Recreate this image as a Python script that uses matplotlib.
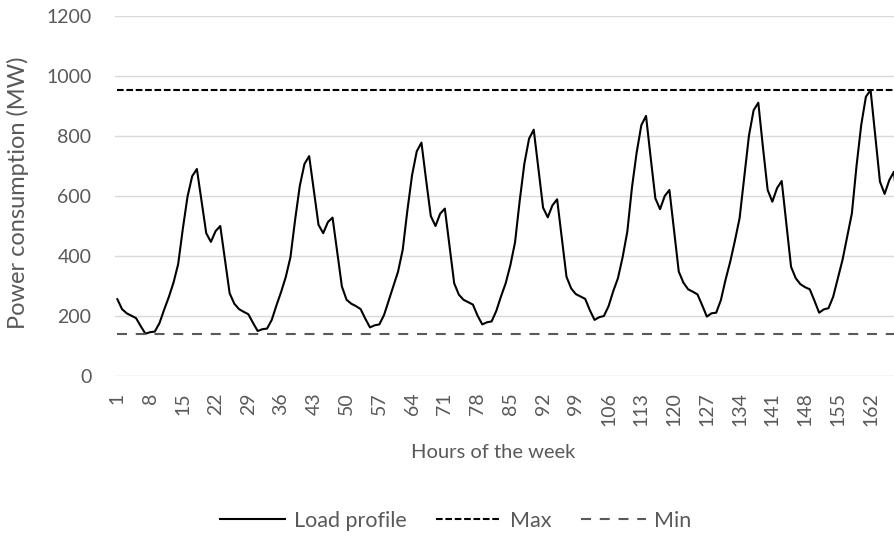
import numpy as np
import matplotlib.pyplot as plt

plt.rcParams['font.family'] = ['Lato', 'DejaVu Sans']

# hourly load (MW), one list per day of the week
day1 = [255, 222, 208, 200, 192, 165, 140, 145, 147, 175, 220, 262, 310, 372, 490, 597, 665, 689, 582, 475, 446, 482, 499, 387]
day2 = [275, 240, 222, 213, 205, 176, 149, 155, 157, 186, 234, 279, 329, 395, 520, 633, 706, 732, 617, 503, 475, 512, 527, 411]
day3 = [297, 253, 240, 232, 222, 190, 161, 168, 171, 202, 250, 298, 347, 420, 552, 669, 748, 777, 652, 532, 499, 540, 557, 433]
day4 = [308, 270, 253, 245, 237, 200, 171, 178, 181, 216, 264, 308, 368, 444, 583, 707, 790, 820, 689, 560, 528, 568, 588, 458]
day5 = [330, 291, 272, 264, 256, 218, 186, 195, 199, 232, 282, 325, 395, 480, 628, 744, 835, 866, 726, 591, 555, 599, 619, 483]
day6 = [347, 310, 288, 280, 271, 235, 197, 208, 210, 252, 320, 380, 450, 525, 662, 800, 885, 910, 760, 619, 580, 625, 649, 505]
day7 = [363, 325, 305, 295, 288, 250, 210, 221, 225, 263, 325, 386, 463, 541, 700, 836, 930, 952, 800, 647, 606, 652, 680, 525]

load = np.array(day1 + day2 + day3 + day4 + day5 + day6 + day7)
hours = np.arange(1, len(load) + 1)
max_load = np.full(len(load), load.max())
min_load = np.full(len(load), load.min())

grey = '#595959'

fig = plt.figure(figsize=(8.94, 5.41), dpi=100)
# plot area runs a little past the right edge of the picture
ax = fig.add_axes([115 / 894, (541 - 375.7) / 541, 786 / 894, 360 / 541])

ax.plot(hours, load, color='black', lw=1.5, label='Load profile')
ax.plot(hours, max_load, color='black', lw=1.5, ls=(0, (3.2, 1.3)), label='Max')
ax.plot(hours, min_load, color=grey, lw=1.5, ls=(0, (4.8, 4.2)), label='Min')

ax.set_xlim(0.5, len(load) + 0.5)
ax.set_ylim(0, 1200)
ax.set_yticks(range(0, 1201, 200))
ax.set_xticks(hours[::7])
ax.tick_params(axis='x', rotation=90, length=0, pad=12, labelsize=14, colors=grey)
ax.tick_params(axis='y', length=0, pad=17, labelsize=14, colors=grey)
ax.grid(axis='y', color='#d9d9d9', lw=1)
ax.set_axisbelow(True)
for s in ax.spines.values():
    s.set_visible(False)

fig.text(493 / 894, 1 - 453 / 541, 'Hours of the week', ha='center', va='center', fontsize=14.5, color=grey)
fig.text(18 / 894, 1 - 193 / 541, 'Power consumption (MW)', rotation=90, ha='center', va='center',
         fontsize=17, color=grey)

fig.legend(loc='center', bbox_to_anchor=(456 / 894, 20 / 541), ncol=3, frameon=False,
           fontsize=15.5, labelcolor=grey, handlelength=3.0, handletextpad=0.4, columnspacing=1.4)

fig.savefig('out.png', dpi=100)
